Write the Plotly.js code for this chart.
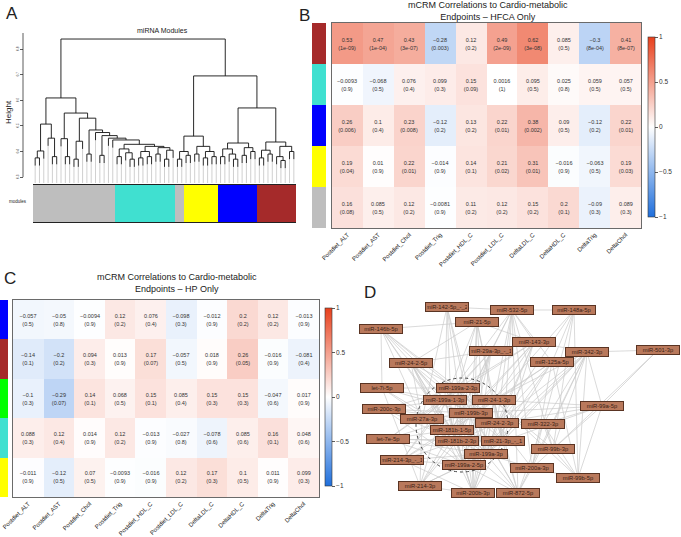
<!DOCTYPE html>
<html><head><meta charset="utf-8">
<script src="https://cdn.plot.ly/plotly-3.0.1.min.js"></script>
<style>html,body{margin:0;padding:0;background:#fff}#chart{width:681px;height:537px}</style>
</head><body><div id="chart"></div>
<script>
// ---------------- DATA ----------------
const endpoints = ['Postdiet_ALT','Postdiet_AST','Postdiet_Chol','Postdiet_Trig','Postdiet_HDL_C','Postdiet_LDL_C','DeltaLDL_C','DeltaHDL_C','DeltaTrig','DeltaChol'];

const hfcaModules = ['brown','turquoise','blue','yellow','grey'];
const hfcaR = [
  [0.53, 0.47, 0.43, -0.28, 0.12, 0.49, 0.62, 0.085, -0.3, 0.41],
  [-0.0093, -0.068, 0.076, 0.099, 0.15, 0.0016, 0.095, 0.025, 0.059, 0.057],
  [0.26, 0.1, 0.23, -0.12, 0.13, 0.22, 0.38, 0.09, -0.12, 0.22],
  [0.19, 0.01, 0.22, -0.014, 0.14, 0.21, 0.31, -0.016, -0.063, 0.19],
  [0.16, 0.085, 0.12, -0.0081, 0.11, 0.12, 0.15, 0.2, -0.09, 0.089]
];
const hfcaP = [
  ['1e-09','1e-04','3e-07','0.003','0.2','2e-09','3e-08','0.5','8e-04','8e-07'],
  ['0.9','0.5','0.4','0.3','0.09','1','0.5','0.8','0.5','0.5'],
  ['0.006','0.4','0.008','0.2','0.2','0.01','0.002','0.5','0.2','0.01'],
  ['0.04','0.9','0.01','0.9','0.1','0.02','0.01','0.9','0.5','0.03'],
  ['0.08','0.5','0.2','0.9','0.2','0.2','0.2','0.1','0.3','0.3']
];

const hpModules = ['blue','brown','green','turquoise','yellow'];
const hpR = [
  [-0.057, -0.05, -0.0094, 0.12, 0.076, -0.098, -0.012, 0.2, 0.12, -0.013],
  [-0.14, -0.2, 0.094, 0.013, 0.17, -0.057, 0.018, 0.26, -0.016, -0.081],
  [-0.1, -0.29, 0.14, 0.068, 0.15, 0.085, 0.15, 0.15, -0.047, 0.017],
  [0.088, 0.12, 0.014, 0.12, -0.013, -0.027, -0.078, 0.085, 0.16, 0.048],
  [-0.011, -0.12, 0.07, -0.0093, -0.016, 0.12, 0.17, 0.1, 0.011, 0.099]
];
const hpP = [
  ['0.5','0.8','0.9','0.2','0.4','0.3','0.9','0.2','0.2','0.9'],
  ['0.1','0.2','0.3','0.9','0.07','0.5','0.9','0.05','0.9','0.4'],
  ['0.3','0.07','0.1','0.5','0.1','0.4','0.3','0.3','0.6','0.9'],
  ['0.3','0.4','0.9','0.2','0.9','0.8','0.6','0.6','0.1','0.6'],
  ['0.9','0.5','0.5','0.9','0.9','0.2','0.3','0.5','0.9','0.3']
];

// dendrogram: [mergeHeight, left, right], leaf = 0
const dendroTree = [0.839,
  [0.609,
    [0.507, [0.402, [0.375,0,0], 0], [0.452, 0, [0.38,0,0]]],
    [0.55,
      [0.45, 0, [0.38,0,0]],
      [0.53,
        [0.44, [0.37,0,0], 0],
        [0.484, [0.39,0,0],
          [0.474, 0,
            [0.462, [0.385,0,0],
              [0.452, 0,
                [0.445, 0,
                  [0.428,
                    [0.41, [0.38,0,0], [0.395, 0, [0.37,0,0]]],
                    [0.42, [0.40, [0.375,0,0], [0.38,0,0]], [0.415, [0.39,0,0], [0.405, [0.37,0,0], 0]]]
                  ]
                ]
              ]
            ]
          ]
        ]
      ]
    ]
  ],
  [0.695,
    [0.46, [0.40, [0.37,0,0], [0.385,0,0]], [0.42, [0.39,0,0], [0.40, [0.375,0,0], [0.38,0,0]]]],
    [0.57,
      [0.433, [0.41, [0.38,0,0], [0.39, 0, [0.37,0,0]]], [0.415, [0.385,0,0], [0.40,0,0]]],
      [0.437, [0.405, [0.375,0,0], [0.39,0,0]], [0.42, [0.38, 0, [0.365,0,0]], [0.40,0,0]]]
    ]
  ]
];
const heightTicks = [0.3, 0.4, 0.5, 0.6, 0.7, 0.8];
const moduleRunNames  = ['grey','turquoise','grey','yellow','blue','brown'];
const moduleRunCounts = [19, 14, 2, 8, 9, 9];

// network
const nodeNames = ['miR-142-5p_-_2','miR-532-5p','miR-148a-5p','miR-21-5p','miR-146b-5p','miR-143-3p','miR-29a-3p_-_1','miR-342-3p','miR-501-3p','miR-125a-5p',
  'miR-24-2-5p','let-7i-5p','miR-199a-2-3p','miR-199a-1-3p','miR-24-1-3p','miR-99a-5p','miR-200c-3p','miR-199b-3p','miR-27a-3p','miR-24-2-3p',
  'miR-322-3p','miR-181b-1-5p','let-7e-5p','miR-181b-2-3p','miR-21-3p_-_1','miR-99b-3p','miR-199a-3p','miR-214-3p_-_1','miR-199a-2-5p','miR-200a-3p',
  'miR-99b-5p','miR-214-3p','miR-200b-3p','miR-872-5p'];
const nodeX = [447,512,574,477,381,534,491,587,658,552, 411,382,458,445,494,602,384,471,422,497, 543,452,388,457,503,553,486,402,464,532, 578,420,473,518];
const nodeY = [307,310,310,322,329,342,351,352,350,362, 363,388,388,400,400,406,409,413,419,423, 424,430,439,441,441,449,454,460,465,468, 478,486,493,493];
const edges = [
  [0,1],[1,2],[7,8],[8,15],[4,3],[0,12],[0,17],[0,21],[0,26],[0,18],[0,13],
  [3,12],[3,13],[3,17],[3,19],[3,24],[3,26],[3,10],[3,5],[3,32],
  [4,12],[4,13],[4,18],[4,21],[4,17],[4,11],[4,23],[4,19],
  [1,5],[1,6],[1,9],[1,14],[1,19],[1,24],[1,29],[1,25],[1,21],[1,13],[1,33],
  [2,9],[2,14],[2,20],[2,25],[2,19],
  [5,7],[5,14],[5,19],[5,24],[5,26],[5,12],[5,17],[5,13],[5,21],
  [6,12],[6,13],[6,17],[6,21],[6,23],[6,28],[6,32],[6,10],
  [7,9],[7,14],[7,19],[7,20],[7,24],[7,25],[7,26],[7,29],[7,30],[7,28],[7,15],[7,33],
  [8,25],
  [9,14],[9,19],[9,24],[9,26],[9,29],[9,21],
  [10,12],[10,13],[10,17],[10,18],[10,21],[10,23],[10,28],[10,26],[10,32],
  [11,12],[11,13],[11,17],[11,21],[11,23],[11,31],
  [15,14],[15,19],[15,24],[15,20],[15,30],[15,25],[15,17],
  [16,13],[16,17],[16,18],[16,21],[16,23],[16,28],[16,19],[16,12],
  [20,29],[20,30],[20,25],[20,33],
  [22,12],[22,13],[22,17],[22,21],[22,23],[22,24],[22,26],[22,28],
  [25,30],[25,29],[25,14],
  [27,12],[27,13],[27,17],[27,21],[27,23],[27,26],[27,28],[27,32],
  [29,30],[29,26],[29,19],[29,33],
  [30,2],[30,9],[30,14],
  [31,13],[31,17],[31,21],[31,23],[31,26],[31,28],[31,18],[31,32],
  [32,12],[32,17],[32,21],[32,23],[32,26],[32,28],[32,19],[32,24],[32,14],
  [33,12],[33,17],[33,19],[33,23],[33,26],[33,28],[33,14],
  [12,13],[12,14],[12,17],[12,18],[12,19],[12,21],[12,23],[12,24],[12,26],[12,28],
  [13,14],[13,17],[13,18],[13,19],[13,21],[13,23],[13,26],[13,28],
  [14,17],[14,19],[14,21],[14,24],[14,26],
  [17,18],[17,19],[17,21],[17,23],[17,24],[17,26],[17,28],
  [18,21],[18,23],[18,28],[19,21],[19,23],[19,24],[19,26],
  [21,23],[21,24],[21,26],[21,28],[23,24],[23,26],[23,28],[24,26],[24,28],[26,28]
];
const clusterRing = {x0:416, x1:508, y0:378, y1:472};

// ---------------- STYLE ----------------
const W = 681, H = 537;
const F = 'Liberation Sans, Arial, Helvetica, sans-serif';
const modColor = {brown:'#A52A2A', turquoise:'#40E0D0', blue:'#0000FF', yellow:'#FFFF00', grey:'#BEBEBE', green:'#00FF00'};
const corrScale = [[0,'#1f6fdc'],[0.5,'#ffffff'],[1,'#e8401c']];
const px = v => v / W, py = v => 1 - v / H;
const HANG = 0.03, Y_BOTTOM = 0.277;

// ---------------- DENDROGRAM ----------------
let leafIdx = 0;
const tx = [], ty = [], gx = [], gy = [];
function walk(node, parentH) {
  if (!Array.isArray(node)) {
    const x = leafIdx++;
    const bottom = parentH - HANG;
    gx.push(x, x, null); gy.push(bottom, Y_BOTTOM, null);
    return {x: x, top: bottom};
  }
  const h = node[0];
  const a = walk(node[1], h), b = walk(node[2], h);
  tx.push(a.x, a.x, b.x, b.x, null);
  ty.push(a.top, h, h, b.top, null);
  return {x: (a.x + b.x) / 2, top: h};
}
walk(dendroTree, dendroTree[0]);
const nLeaves = leafIdx;

const leafColors = [];
moduleRunNames.forEach((m, i) => { for (let k = 0; k < moduleRunCounts[i]; k++) leafColors.push(modColor[m]); });
const leafIdxArr = leafColors.map((_, i) => i);

// ---------------- HEATMAP TEXT ----------------
const fmt = v => String(v).replace('-', '\u2212');
const textOf = (R, P) => R.map((row, i) => row.map((v, j) => fmt(v) + '<br>(' + P[i][j] + ')'));
const sideScale = mods => mods.map((m, i) => [i / (mods.length - 1), modColor[m]]);

const cbCommon = {
  thickness: 7, thicknessmode: 'pixels', lenmode: 'fraction', xanchor: 'left', yanchor: 'middle',
  tickvals: [-1, -0.5, 0, 0.5, 1], ticktext: ['\u22121', '\u22120.5', '0', '0.5', '1'],
  ticks: 'outside', ticklen: 3, tickwidth: 0.8, tickcolor: '#333',
  tickfont: {size: 6.5, family: F, color: '#333'},
  outlinewidth: 0.6, outlinecolor: '#333', xpad: 0, ypad: 0
};

// edges
const ex = [], ey = [];
edges.forEach(([a, b]) => { ex.push(nodeX[a], nodeX[b], null); ey.push(nodeY[a], nodeY[b], null); });

const traces = [
  {type: 'scatter', mode: 'lines', x: gx, y: gy, xaxis: 'x', yaxis: 'y', line: {color: '#c4c4c4', width: 0.8}, hoverinfo: 'skip'},
  {type: 'scatter', mode: 'lines', x: tx, y: ty, xaxis: 'x', yaxis: 'y', line: {color: '#111', width: 0.9}, hoverinfo: 'skip'},
  {type: 'bar', x: leafIdxArr, y: leafIdxArr.map(() => 1), xaxis: 'x2', yaxis: 'y2', width: 1,
   marker: {color: leafColors, line: {width: 0}}, hoverinfo: 'skip'},
  {type: 'heatmap', z: hfcaR, x: endpoints, y: hfcaModules, xaxis: 'x3', yaxis: 'y3', zmin: -1, zmax: 1,
   colorscale: corrScale, text: textOf(hfcaR, hfcaP), texttemplate: '%{text}',
   textfont: {size: 5.5, family: F, color: '#333'}, hoverinfo: 'skip',
   colorbar: Object.assign({}, cbCommon, {x: px(648), y: py(127), len: 180 / H})},
  {type: 'heatmap', z: hfcaModules.map((_, i) => [i]), x: ['m'], y: hfcaModules, xaxis: 'x4', yaxis: 'y4',
   zmin: 0, zmax: hfcaModules.length - 1, colorscale: sideScale(hfcaModules), showscale: false, hoverinfo: 'skip'},
  {type: 'heatmap', z: hpR, x: endpoints, y: hpModules, xaxis: 'x5', yaxis: 'y5', zmin: -1, zmax: 1,
   colorscale: corrScale, text: textOf(hpR, hpP), texttemplate: '%{text}',
   textfont: {size: 5.5, family: F, color: '#333'}, hoverinfo: 'skip',
   colorbar: Object.assign({}, cbCommon, {x: px(325), y: py(397), len: 178 / H})},
  {type: 'heatmap', z: hpModules.map((_, i) => [i]), x: ['m'], y: hpModules, xaxis: 'x6', yaxis: 'y6',
   zmin: 0, zmax: hpModules.length - 1, colorscale: sideScale(hpModules), showscale: false, hoverinfo: 'skip'},
  {type: 'scatter', mode: 'lines', x: ex, y: ey, xaxis: 'x7', yaxis: 'y7', line: {color: '#cacaca', width: 0.7}, hoverinfo: 'skip'}
];

const hidden = {visible: false, fixedrange: true};
const heatX = (d, anchor) => ({domain: d, anchor: anchor, type: 'category', tickangle: -45, ticks: '',
  tickfont: {size: 6, family: F, color: '#222'}, showline: true, mirror: true, linecolor: '#6a6a6a', linewidth: 1,
  showgrid: false, zeroline: false});
const heatY = (d, anchor) => ({domain: d, anchor: anchor, type: 'category', autorange: 'reversed', showticklabels: false,
  ticks: '', showline: true, mirror: true, linecolor: '#6a6a6a', linewidth: 1, showgrid: false, zeroline: false});

const annotations = [
  {text: 'A', x: px(4), y: py(14), xanchor: 'left', font: {size: 17}},
  {text: 'B', x: px(297), y: py(15), xanchor: 'left', font: {size: 17}},
  {text: 'C', x: px(2), y: py(278), xanchor: 'left', font: {size: 17}},
  {text: 'D', x: px(362), y: py(292), xanchor: 'left', font: {size: 17}},
  {text: 'miRNA Modules', x: px(162), y: py(31), font: {size: 7}},
  {text: 'Height', x: px(8), y: py(112), textangle: -90, font: {size: 8}},
  {text: 'modules', x: px(29), y: py(202), xanchor: 'right', font: {size: 4.5}},
  {text: 'mCRM Correlations to Cardio-metabolic<br>Endpoints \u2013 HFCA Only', x: px(488), y: py(11), font: {size: 9}},
  {text: 'mCRM Correlations to Cardio-metabolic<br>Endpoints \u2013 HP Only', x: px(177), y: py(283), font: {size: 9}}
].map(a => Object.assign({xref: 'paper', yref: 'paper', showarrow: false, yanchor: 'middle', xanchor: a.xanchor || 'center'}, a,
  {font: Object.assign({family: F, color: '#222'}, a.font)}));

nodeNames.forEach((name, i) => annotations.push({
  xref: 'x7', yref: 'y7', x: nodeX[i], y: nodeY[i], text: name, showarrow: false,
  font: {size: 5.8, family: F, color: '#3a2216'}, bgcolor: '#b9795c', bordercolor: '#5a3423',
  borderwidth: 1, borderpad: 1, width: 40, height: 6
}));

const layout = {
  width: W, height: H, margin: {l: 0, r: 0, t: 0, b: 0}, showlegend: false, bargap: 0,
  paper_bgcolor: '#fff', plot_bgcolor: '#fff', font: {family: F, color: '#222'},
  xaxis: Object.assign({domain: [px(33), px(296)], range: [-0.5, nLeaves - 0.5], anchor: 'y'}, hidden),
  yaxis: {domain: [py(183), py(33)], range: [Y_BOTTOM, 0.8625], anchor: 'free', position: px(23),
    tickvals: heightTicks, ticks: 'outside', ticklen: 3, tickwidth: 0.8, tickcolor: '#333',
    tickfont: {size: 3, family: F, color: '#333'}, tickangle: -90,
    showline: false, showgrid: false, zeroline: false, fixedrange: true},
  xaxis2: {domain: [px(33), px(296)], range: [-0.5, nLeaves - 0.5], anchor: 'y2', showticklabels: false, ticks: '',
    showgrid: false, zeroline: false, showline: true, mirror: true, linecolor: '#222', linewidth: 1},
  yaxis2: Object.assign({domain: [py(222), py(185)], range: [0, 1], anchor: 'x2'}, hidden),
  xaxis3: heatX([px(332), px(641)], 'y3'),
  yaxis3: heatY([py(228), py(23)], 'x3'),
  xaxis4: Object.assign({domain: [px(312), px(326)], anchor: 'y4'}, hidden),
  yaxis4: Object.assign({domain: [py(228), py(23)], anchor: 'x4', autorange: 'reversed', type: 'category'}, hidden),
  xaxis5: heatX([px(13), px(319)], 'y5'),
  yaxis5: heatY([py(497), py(300)], 'x5'),
  xaxis6: Object.assign({domain: [0, px(8)], anchor: 'y6'}, hidden),
  yaxis6: Object.assign({domain: [py(497), py(300)], anchor: 'x6', autorange: 'reversed', type: 'category'}, hidden),
  xaxis7: Object.assign({domain: [px(350), 1], range: [350, 681], anchor: 'y7'}, hidden),
  yaxis7: Object.assign({domain: [0, py(280)], range: [537, 280], anchor: 'x7'}, hidden),
  shapes: [
    {type: 'line', xref: 'paper', yref: 'y', x0: px(23), x1: px(23), y0: heightTicks[0], y1: 0.8625, line: {color: '#333', width: 0.8}},
    {type: 'circle', xref: 'x7', yref: 'y7', x0: clusterRing.x0, x1: clusterRing.x1, y0: clusterRing.y0, y1: clusterRing.y1,
     line: {color: '#444', width: 1, dash: 'dot'}, layer: 'above'}
  ],
  annotations: annotations
};

Plotly.newPlot('chart', traces, layout, {displayModeBar: false, staticPlot: true});
</script></body></html>
